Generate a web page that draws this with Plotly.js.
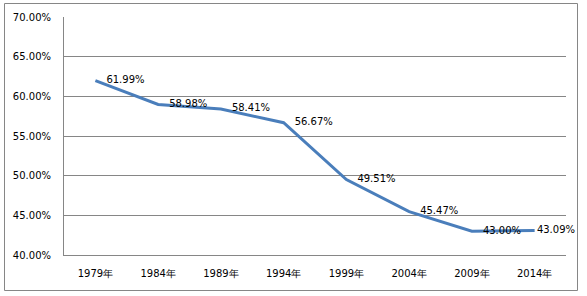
<!DOCTYPE html>
<html>
<head>
<meta charset="utf-8">
<script src="https://cdn.plot.ly/plotly-3.0.1.min.js"></script>
<style>html,body{margin:0;padding:0;background:#fff;}#chart{width:587px;height:296px;}</style>
</head>
<body>
<div id="chart"></div>
<script>
const years = ["1979年","1984年","1989年","1994年","1999年","2004年","2009年","2014年"];
const shares = [61.99, 58.98, 58.41, 56.67, 49.51, 45.47, 43.00, 43.09];
const yTicks = [40, 45, 50, 55, 60, 65, 70];

const W = 587, H = 296, L = 64, R = 21, T = 17, B = 41;
const pw = W - L - R, ph = H - T - B;
const px = v => (v - L) / pw;
const py = v => (H - B - v) / ph;

const trace = {
  x: years,
  y: shares,
  type: 'scatter',
  mode: 'lines+markers+text',
  line: {color: '#4a7ebb', width: 3},
  marker: {size: shares.map((_, i) => i === shares.length - 1 ? 2 : 16), color: 'rgba(0,0,0,0)', line: {width: 0}},
  text: shares.map(v => v.toFixed(2) + '%'),
  textposition: 'middle right',
  textfont: {family: 'DejaVu Sans, Verdana, sans-serif', size: 10, color: '#000'},
  cliponaxis: false,
  hoverinfo: 'none'
};

const layout = {
  width: W, height: H,
  margin: {l: L, r: R, t: T, b: B, pad: 0},
  paper_bgcolor: '#fff',
  plot_bgcolor: '#fff',
  showlegend: false,
  font: {family: 'DejaVu Sans, Verdana, sans-serif', size: 10, color: '#000'},
  xaxis: {
    type: 'category',
    range: [-0.5, years.length - 0.5],
    showgrid: false,
    showline: true, linecolor: '#868686', linewidth: 1,
    ticks: 'outside', ticklen: 9, tickcolor: 'rgba(0,0,0,0)',
    tickfont: {family: 'DejaVu Sans, Verdana, sans-serif', size: 10, color: '#000'},
    zeroline: false, fixedrange: true
  },
  yaxis: {
    range: [40, 70],
    tickvals: yTicks,
    ticktext: yTicks.map(v => v.toFixed(2) + '%'),
    showgrid: true, gridcolor: '#868686', gridwidth: 1,
    showline: true, linecolor: '#868686', linewidth: 1,
    ticks: 'outside', ticklen: 10, tickcolor: 'rgba(0,0,0,0)',
    tickfont: {family: 'DejaVu Sans, Verdana, sans-serif', size: 10, color: '#000'},
    zeroline: false, fixedrange: true
  },
  shapes: [{
    type: 'rect', xref: 'paper', yref: 'paper',
    x0: px(4.5), x1: px(577.5), y0: py(290.5), y1: py(3.5),
    line: {color: '#868686', width: 1}, fillcolor: 'rgba(0,0,0,0)', layer: 'below'
  }]
};

Plotly.newPlot('chart', [trace], layout, {staticPlot: true, displayModeBar: false});
</script>
</body>
</html>
